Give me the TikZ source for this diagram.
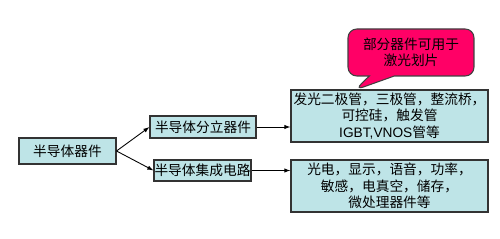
\documentclass[tikz,border=0pt]{standalone}
\usepackage{fontspec}
\usepackage{xcolor}
\usepackage{tikz}
\usetikzlibrary{arrows.meta, positioning, shapes, shapes.callouts}
\newfontfamily\cjk{Noto Sans CJK SC}
\newfontfamily\lat{Liberation Sans}
\definecolor{boxcyan}{RGB}{190,228,231}
\definecolor{notered}{RGB}{255,0,102}

\begin{document}
\begin{tikzpicture}[x=0.02cm, y=-0.02cm, thick,
      box/.style={draw=black!80, line width=0.6pt, fill=boxcyan, inner sep=0pt,
        align=center, font=\cjk\fontsize{7.8}{9.4}\selectfont},
      note/.style={rectangle callout, rounded corners=5pt, draw=black!75, line width=0.6pt,
        fill=notered, align=center, inner sep=0pt, font=\cjk\fontsize{7.8}{9.4}\selectfont},
      link/.style={-{Latex[length=3.5pt, width=2.5pt]}, line width=0.5pt}]
      \useasboundingbox (0,0) rectangle (500,239);
      % tree of boxes
      \node[box, minimum width=1.94cm, minimum height=0.52cm] (root) at (67.5,151) {半导体器件};
      \node[box, minimum width=2.12cm, minimum height=0.44cm] (sep) at (203,127) {半导体分立器件};
      \node[box, minimum width=1.94cm, minimum height=0.42cm] (ic) at (202.5,170.5) {半导体集成电路};
      \node[box, minimum width=3.94cm, minimum height=1.04cm] (sepex) at (389.5,116)
        {发光二极管，三极管，整流桥，\\可控硅，触发管\\{\lat IGBT,VNOS}管等};
      \node[box, minimum width=3.94cm, minimum height=1.04cm] (icex) at (389.5,186)
        {光电，显示，语音，功率，\\敏感，电真空，储存，\\微处理器件等};
      % callout
      \coordinate (tip) at (355,90);
      \node[note, minimum width=2.52cm, minimum height=0.94cm, callout absolute pointer={(tip)},
        callout pointer width=0.5cm] (laser) at (411,52.5) {部分器件可用于\\激光划片};
      % links
      \draw[link] (root.east) -- (sep.west);
      \draw[link] (root.east) -- (ic.west);
      \draw[link] (sep.east) -- (sep.east -| sepex.west);
      \draw[link] (ic.east) -- (ic.east -| icex.west);
\end{tikzpicture}
\end{document}
